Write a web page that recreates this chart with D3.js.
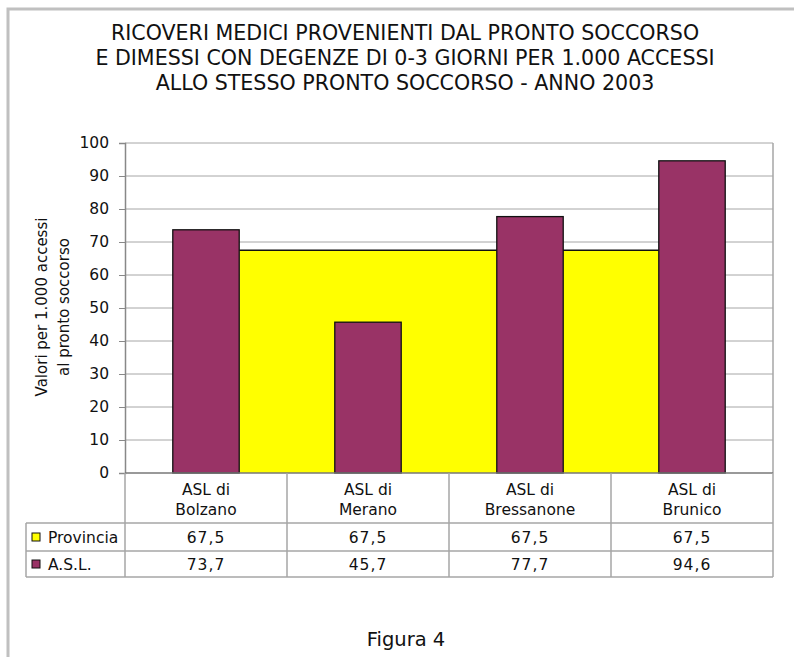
<!DOCTYPE html>
<html lang="it">
<head>
<meta charset="UTF-8">
<script src="https://cdn.jsdelivr.net/npm/d3@7"></script>
<title>Figura 4</title>
<style>
  body { margin: 0; background: #fff; }
  svg text { font-family: "DejaVu Sans", Verdana, sans-serif; fill: #111; }
</style>
</head>
<body>
<svg id="chart" width="794" height="657"></svg>
<script>
// dati
var categorie = [["ASL di", "Bolzano"], ["ASL di", "Merano"], ["ASL di", "Bressanone"], ["ASL di", "Brunico"]];
var provincia = [67.5, 67.5, 67.5, 67.5];
var asl = [73.7, 45.7, 77.7, 94.6];
var serie = ["Provincia", "A.S.L."];
var colori = ["#ffff00", "#993366"];
var yTicks = [0, 10, 20, 30, 40, 50, 60, 70, 80, 90, 100];
var titolo = ["RICOVERI MEDICI PROVENIENTI DAL PRONTO SOCCORSO",
              "E DIMESSI CON DEGENZE DI 0-3 GIORNI PER 1.000 ACCESSI",
              "ALLO STESSO PRONTO SOCCORSO - ANNO 2003"];

var svg = d3.select("#chart");
var pLeft = 125, pRight = 773, pTop = 143, pBottom = 473;
var tabLeft = 26, rowH = [50, 28, 26];
var grid = "#a6a6a6";

// cornice grigia (solo sopra e a sinistra)
svg.append("path").attr("d", "M8,657 V9 H794")
   .attr("fill", "none").attr("stroke", "#c0c0c0").attr("stroke-width", 3);

// titolo
svg.selectAll("text.tit").data(titolo).enter().append("text")
   .attr("class", "tit").attr("x", 405).attr("y", function(d, i) { return 40 + i * 25; })
   .attr("text-anchor", "middle").style("font-size", "20.6px").text(function(d) { return d; });

var x = d3.scaleBand().domain(d3.range(categorie.length)).range([pLeft, pRight]).padding(0);
var y = d3.scaleLinear().domain([0, 100]).range([pBottom, pTop]);
var bw = x.step() * 0.41;

// griglia
svg.append("g").selectAll("line").data(yTicks.slice(1)).enter().append("line")
   .attr("x1", pLeft).attr("x2", pRight).attr("y1", function(d) { return y(d); }).attr("y2", function(d) { return y(d); })
   .attr("stroke", grid).attr("stroke-width", 1);
svg.append("line").attr("x1", pRight).attr("x2", pRight).attr("y1", pTop).attr("y2", pBottom)
   .attr("stroke", grid).attr("stroke-width", 1.5);

// serie Provincia: area continua tra le barre
var xs = function(i) { return i === 0 ? x(i) + (x.step() + bw) / 2 : x(i); };
var xe = function(i) { return i === categorie.length - 1 ? x(i) + (x.step() - bw) / 2 : x(i) + x.step(); };
svg.append("g").selectAll("rect").data(provincia).enter().append("rect")
   .attr("x", function(d, i) { return xs(i); }).attr("width", function(d, i) { return xe(i) - xs(i); })
   .attr("y", function(d) { return y(d); }).attr("height", function(d) { return y(0) - y(d); })
   .attr("fill", colori[0]);
var pts = [];
provincia.forEach(function(d, i) { pts.push([xs(i), y(d)], [xe(i), y(d)]); });
svg.append("path").attr("d", d3.line()(pts)).attr("fill", "none").attr("stroke", "#111").attr("stroke-width", 1.3);

// asse y
var yAxis = d3.axisLeft(y).tickValues(yTicks).tickSize(6).tickPadding(10).tickFormat(d3.format("d"));
var ga = svg.append("g").attr("transform", "translate(" + pLeft + ",0)").call(yAxis);
ga.select(".domain").attr("stroke", "#888").attr("stroke-width", 1.5);
ga.selectAll(".tick line").attr("stroke", "#888");
ga.selectAll(".tick text").style("font-size", "15.5px").style("font-family", "'DejaVu Sans', sans-serif").attr("fill", "#111");

// serie A.S.L.
svg.append("g").selectAll("rect").data(asl).enter().append("rect")
   .attr("x", function(d, i) { return x(i) + (x.step() - bw) / 2; }).attr("width", bw)
   .attr("y", function(d) { return y(d); }).attr("height", function(d) { return y(0) - y(d); })
   .attr("fill", colori[1]).attr("stroke", "#111").attr("stroke-width", 1.3);

svg.append("line").attr("x1", pLeft).attr("x2", pRight).attr("y1", pBottom).attr("y2", pBottom)
   .attr("stroke", "#777").attr("stroke-width", 1.5);

// tabella dati
var r1 = pBottom + rowH[0], r2 = r1 + rowH[1], r3 = r2 + rowH[2];
var t = svg.append("g").attr("stroke", grid).attr("stroke-width", 1.5);
[r1, r2, r3].forEach(function(yy) { t.append("line").attr("x1", tabLeft).attr("x2", pRight).attr("y1", yy).attr("y2", yy); });
t.append("line").attr("x1", tabLeft).attr("x2", tabLeft).attr("y1", r1).attr("y2", r3);
d3.range(categorie.length + 1).forEach(function(i) {
  var xx = i < categorie.length ? x(i) : pRight;
  t.append("line").attr("x1", xx).attr("x2", xx).attr("y1", pBottom).attr("y2", r3);
});

svg.append("g").selectAll("text").data(categorie).enter().append("text")
   .attr("text-anchor", "middle").style("font-size", "15.5px")
   .attr("transform", function(d, i) { return "translate(" + (x(i) + x.step() / 2) + "," + (pBottom + 22) + ")"; })
   .each(function(d) {
     d3.select(this).selectAll("tspan").data(d).enter().append("tspan")
       .attr("x", 0).attr("dy", function(s, j) { return j === 0 ? 0 : 20; }).text(function(s) { return s; });
   });

var fmt = function(v) { return d3.format(".1f")(v).replace(".", ","); };
[provincia, asl].forEach(function(vals, k) {
  var cy = k === 0 ? (r1 + r2) / 2 : (r2 + r3) / 2;
  svg.append("rect").attr("x", 32).attr("y", cy - 4).attr("width", 8).attr("height", 8)
     .attr("fill", colori[k]).attr("stroke", "#111").attr("stroke-width", 1);
  svg.append("text").attr("x", 48).attr("y", cy + 6).style("font-size", "15.5px").text(serie[k]);
  svg.append("g").selectAll("text").data(vals).enter().append("text")
     .attr("x", function(d, i) { return x(i) + x.step() / 2; }).attr("y", cy + 6)
     .attr("text-anchor", "middle").style("font-size", "15.5px").style("letter-spacing", "1px")
     .text(fmt);
});

// titolo asse y
svg.append("text").attr("transform", "translate(47,307) rotate(-90)").attr("text-anchor", "middle")
   .style("font-size", "15px")
   .selectAll("tspan").data(["Valori per 1.000 accessi", "al pronto soccorso"]).enter().append("tspan")
   .attr("x", 0).attr("dy", function(d, i) { return i === 0 ? 0 : 22; }).text(function(d) { return d; });

svg.append("text").attr("x", 406).attr("y", 646).attr("text-anchor", "middle")
   .style("font-size", "19.5px").text("Figura 4");
</script>
</body>
</html>
